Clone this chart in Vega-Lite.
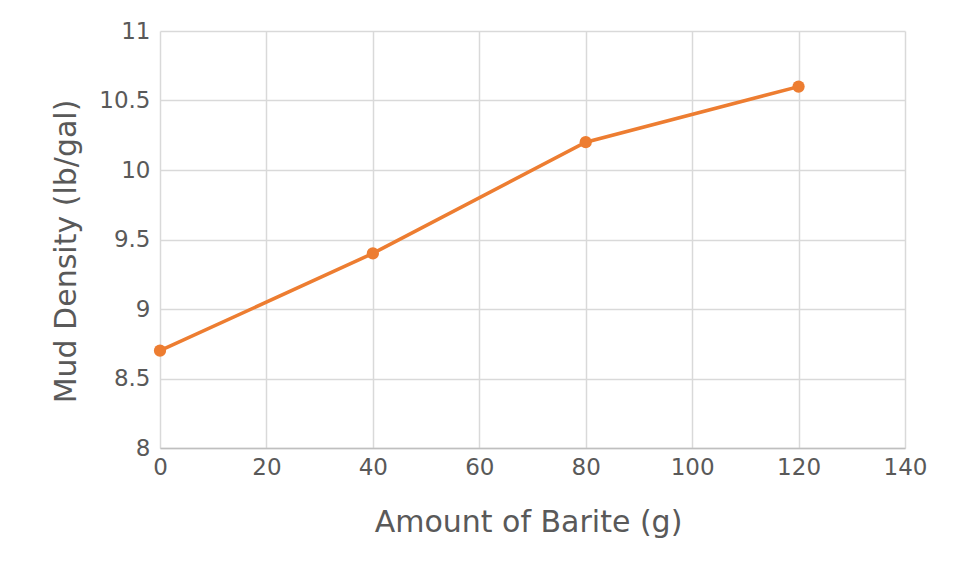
{
  "$schema": "https://vega.github.io/schema/vega-lite/v6.json",
  "width": 745,
  "height": 417,
  "autosize": "none",
  "padding": {"left": 160, "top": 31, "right": 51, "bottom": 130},
  "background": "white",
  "config": {
    "font": "DejaVu Sans",
    "view": {"stroke": null},
    "axis": {
      "labelFont": "DejaVu Sans",
      "titleFont": "DejaVu Sans",
      "labelColor": "#595959",
      "titleColor": "#595959",
      "labelFontSize": 23,
      "titleFontSize": 30,
      "titleFontWeight": "normal",
      "gridColor": "#D9D9D9",
      "gridWidth": 1.5,
      "ticks": false,
      "domainColor": "#BFBFBF",
      "domainWidth": 1.5
    }
  },
  "data": {
    "values": [
      {"barite_g": 0, "density": 8.7},
      {"barite_g": 40, "density": 9.4},
      {"barite_g": 80, "density": 10.2},
      {"barite_g": 120, "density": 10.6}
    ]
  },
  "mark": {"type": "line", "color": "#ED7D31", "strokeWidth": 3.5, "point": {"filled": true, "size": 150, "color": "#ED7D31", "opacity": 1}},
  "encoding": {
    "x": {
      "field": "barite_g",
      "type": "quantitative",
      "title": "Amount of Barite (g)",
      "scale": {"domain": [0, 140], "nice": false},
      "axis": {"values": [0, 20, 40, 60, 80, 100, 120, 140], "format": "d", "labelPadding": 8, "titlePadding": 28, "titleX": 368, "labelFlush": false}
    },
    "y": {
      "field": "density",
      "type": "quantitative",
      "title": "Mud Density (lb/gal)",
      "scale": {"domain": [8, 11], "nice": false, "zero": false},
      "axis": {"values": [8, 8.5, 9, 9.5, 10, 10.5, 11], "format": "~g", "labelPadding": 10, "titlePadding": 17, "titleY": 220, "labelFlush": false, "domain": false}
    }
  }
}
